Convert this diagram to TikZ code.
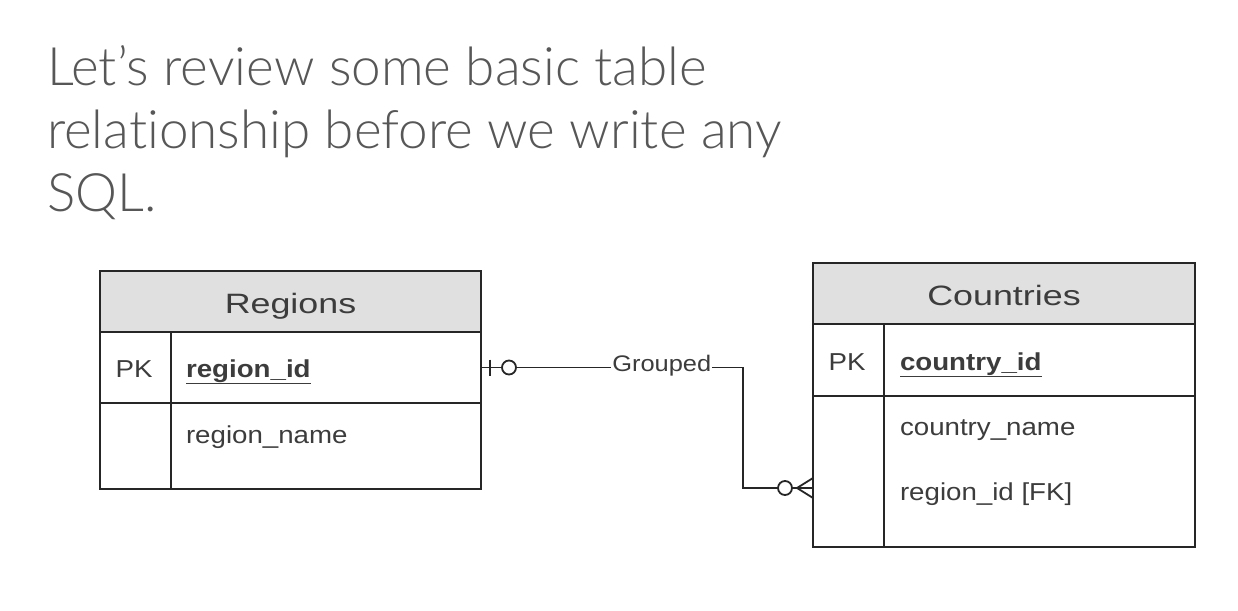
\documentclass[tikz,border=0pt]{standalone}
\usepackage{fontspec}
\setmainfont{Liberation Sans}
\newfontfamily\titlefont{Lato}[UprightFont={* Light},Ligatures=NoCommon]
\newfontfamily\headfont{Liberation Sans}[FakeStretch=1.28]
\newfontfamily\rowfont{Liberation Sans}[FakeStretch=1.13]
\usetikzlibrary{positioning}
\definecolor{headgray}{HTML}{E0E0E0}
\definecolor{textgray}{HTML}{3C3C3C}
\definecolor{titlegray}{HTML}{575757}
\definecolor{linegray}{HTML}{262626}

\begin{document}
\begin{tikzpicture}[x=1pt,y=-1pt,
    every node/.style={inner sep=0pt,outer sep=0pt},
    tablehead/.style={draw=linegray,line width=1.8pt,fill=headgray,anchor=north west},
    cell/.style={draw=linegray,line width=1.8pt,anchor=north west},
    headtext/.style={text=textgray,font=\headfont\fontsize{28}{34}\selectfont,anchor=base},
    field/.style={text=textgray,font=\rowfont\fontsize{24.5}{30}\selectfont,anchor=base west},
    keyfield/.style={field,font=\rowfont\bfseries\fontsize{24.5}{30}\selectfont},
    link/.style={draw=linegray,line width=1.8pt}]
\useasboundingbox (0,0) rectangle (1238,610);

% heading
\node[anchor=north west,align=left,text=titlegray,
      font=\titlefont\fontsize{53}{63}\selectfont] (title) at (47,45)
  {Let’s review some basic table\\relationship before we write any\\SQL.};

% Regions
\node[tablehead,minimum width=381pt,minimum height=61pt] (regHead) at (100,271) {};
\node[cell,minimum width=71pt,minimum height=71pt] (regPK) at (regHead.south west) {};
\node[cell,minimum width=310pt,minimum height=71pt] (regKey) at (regPK.north east) {};
\node[cell,minimum width=71pt,minimum height=86pt] (regSpare) at (regPK.south west) {};
\node[cell,minimum width=310pt,minimum height=86pt] (regRest) at (regKey.south west) {};
\node[headtext] at ([yshift=-11.5pt]regHead.center) {Regions};
\node[field,anchor=base] at ([xshift=-1.5pt,yshift=-9.5pt]regPK.center) {PK};
\node[keyfield] at ([xshift=15pt,yshift=-45pt]regKey.north west) {\underline{region\_id}};
\node[field] at ([xshift=15pt,yshift=-40pt]regRest.north west) {region\_name};

% Countries
\node[tablehead,minimum width=382pt,minimum height=61pt] (ctyHead) at (813,263) {};
\node[cell,minimum width=71pt,minimum height=72pt] (ctyPK) at (ctyHead.south west) {};
\node[cell,minimum width=311pt,minimum height=72pt] (ctyKey) at (ctyPK.north east) {};
\node[cell,minimum width=71pt,minimum height=151pt] (ctySpare) at (ctyPK.south west) {};
\node[cell,minimum width=311pt,minimum height=151pt] (ctyRest) at (ctyKey.south west) {};
\node[headtext] at ([yshift=-11.5pt]ctyHead.center) {Countries};
\node[field,anchor=base] at ([xshift=-1.5pt,yshift=-10pt]ctyPK.center) {PK};
\node[keyfield] at ([xshift=16pt,yshift=-46pt]ctyKey.north west) {\underline{country\_id}};
\node[field] at ([xshift=16pt,yshift=-39pt]ctyRest.north west) {country\_name};
\node[field] at ([xshift=16pt,yshift=-104pt]ctyRest.north west) {region\_id [FK]};

% relationship
\coordinate (bend) at (743,367.5);
\coordinate (fkEnd) at ([yshift=-16.5pt]ctySpare.west);
\draw[link] (regKey.east) -- (bend) |- (fkEnd);
\path (regKey.east) -- (bend)
  node[pos=0.69,fill=white,inner xsep=1pt,anchor=base,yshift=-3.5pt,
       text=textgray,font=\rowfont\fontsize{22.5}{27}\selectfont] (grouped) {Grouped};
% zero or one
\draw[link] ([xshift=9pt,yshift=8pt]regKey.east) -- ([xshift=9pt,yshift=-8pt]regKey.east);
\draw[link,fill=white] ([xshift=28pt]regKey.east) circle[radius=7pt];
% zero or many
\draw[link,fill=white] ([xshift=-28pt]fkEnd) circle[radius=7pt];
\draw[link] ([yshift=10pt]fkEnd) -- ([xshift=-16pt]fkEnd) -- ([yshift=-10pt]fkEnd);
\end{tikzpicture}
\end{document}
